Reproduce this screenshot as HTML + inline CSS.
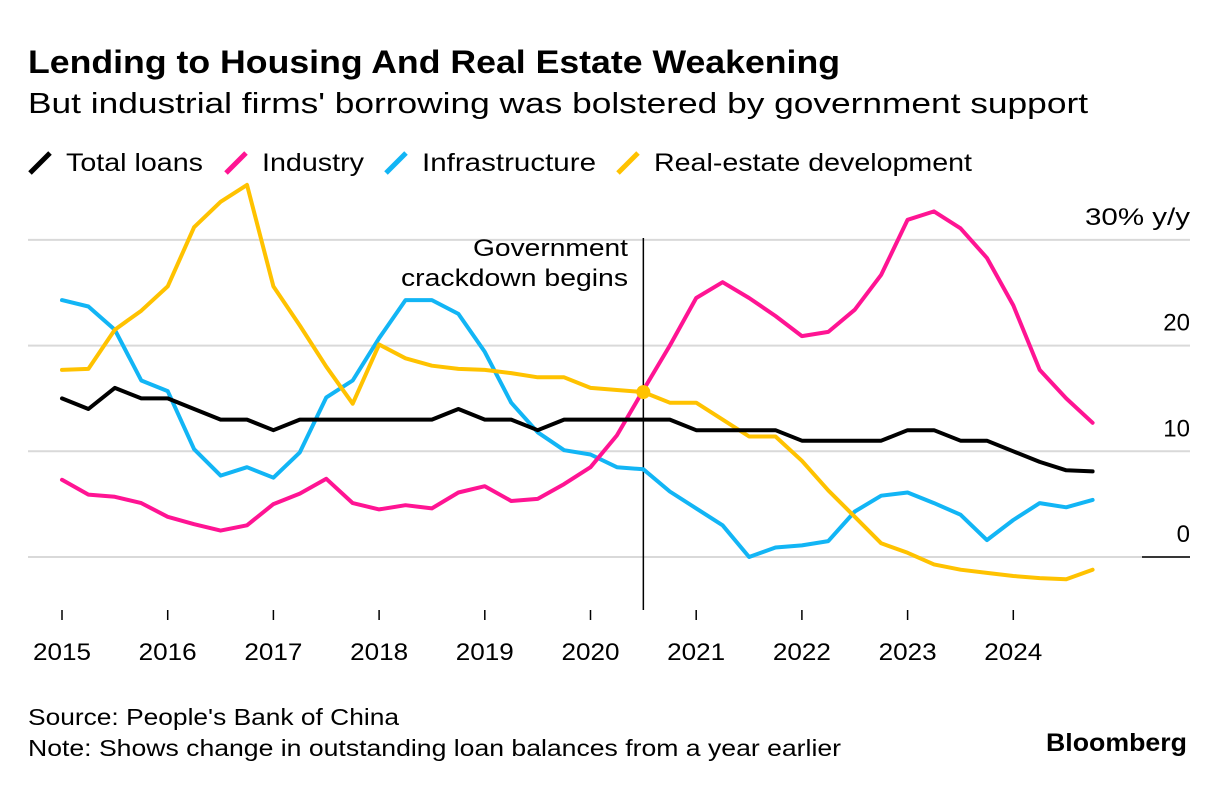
<!DOCTYPE html>
<html><head><meta charset="utf-8">
<style>
body{margin:0;background:#fff;font-family:"Liberation Sans",sans-serif;}
#wrap{position:relative;width:1224px;height:802px;overflow:hidden;}
</style></head>
<body>
<div id="wrap">
<svg id="chart" width="1224" height="802" style="position:absolute;left:0;top:0" font-family="Liberation Sans, sans-serif">
<text x="28" y="73" font-size="32" font-weight="bold" textLength="812" lengthAdjust="spacingAndGlyphs">Lending to Housing And Real Estate Weakening</text>
<text x="28" y="113" font-size="29" textLength="1060" lengthAdjust="spacingAndGlyphs">But industrial firms' borrowing was bolstered by government support</text>
<text x="28" y="725" font-size="23" textLength="371" lengthAdjust="spacingAndGlyphs">Source: People's Bank of China</text>
<text x="28" y="756" font-size="23" textLength="813" lengthAdjust="spacingAndGlyphs">Note: Shows change in outstanding loan balances from a year earlier</text>
<text x="1046" y="751" font-size="25" font-weight="bold" textLength="141" lengthAdjust="spacingAndGlyphs">Bloomberg</text>
</svg>
</div>
<script>
const years=["2015","2016","2017","2018","2019","2020","2021","2022","2023","2024"];
const yTicks=[0,10,20,30];
const seriesNames=["Total loans","Industry","Infrastructure","Real-estate development"];
const seriesColors=["#000000","#ff1493","#12b5f5","#ffc200"];
const totalLoans=[15,14,16,15,15,14,13,13,12,13,13,13,13,13,13,14,13,13,12,13,13,13,13,13,12,12,12,12,11,11,11,11,12,12,11,11,10,9,8.2,8.1];
const industry=[7.3,5.9,5.7,5.1,3.8,3.1,2.5,3.0,5.0,6.0,7.4,5.1,4.5,4.9,4.6,6.1,6.7,5.3,5.5,6.9,8.5,11.5,15.8,20,24.5,26,24.5,22.8,20.9,21.3,23.4,26.7,31.9,32.7,31.1,28.3,23.8,17.7,15,12.7];
const infrastructure=[24.3,23.7,21.5,16.7,15.7,10.2,7.7,8.5,7.5,9.9,15.1,16.7,20.7,24.3,24.3,23,19.4,14.6,11.8,10.1,9.7,8.5,8.3,6.2,4.6,3,0,0.9,1.1,1.5,4.3,5.8,6.1,5.1,4,1.6,3.5,5.1,4.7,5.4];
const realEstate=[17.7,17.8,21.5,23.3,25.6,31.2,33.6,35.2,25.6,21.9,18,14.5,20.1,18.8,18.1,17.8,17.7,17.4,17,17,16,15.8,15.6,14.6,14.6,13,11.4,11.4,9.1,6.3,3.8,1.3,0.4,-0.7,-1.2,-1.5,-1.8,-2,-2.1,-1.2];
const crackdownIndex=22;
const allSeries=[totalLoans,industry,infrastructure,realEstate];
const seriesKeys=["total-loans","industry","infrastructure","real-estate"];

const svg=document.getElementById('chart');
const NS="http://www.w3.org/2000/svg";
const x0=62,xStep=105.7/4;
const xq=i=>x0+i*xStep;
const yv=v=>557-v*10.57;
function mk(tag,attrs,parent){const e=document.createElementNS(NS,tag);for(const k in attrs)e.setAttribute(k,attrs[k]);(parent||svg).appendChild(e);return e;}
function fit(t,w){t.setAttribute('textLength',w);t.setAttribute('lengthAdjust','spacingAndGlyphs');}

yTicks.forEach((t)=>{
  const g=mk('line',{x1:28,x2:1190,y1:yv(t),y2:yv(t),stroke:'#d9d9d9','stroke-width':2});
  
  
  const lab=mk('text',{x:1190,y:yv(t)-15,'text-anchor':'end','font-size':24,fill:'#000'});
  lab.textContent=t===30?'30% y/y':String(t);
  if(t===30)fit(lab,105);
  
  
});
const zl=mk('line',{x1:1142,x2:1190,y1:yv(0),y2:yv(0),stroke:'#000','stroke-width':1.5});



years.forEach((y,i)=>{
  const x=xq(i*4);
  const tk=mk('line',{x1:x,x2:x,y1:610,y2:620,stroke:'#000','stroke-width':1.5});
  
  
  const lb=mk('text',{x:x-29,y:660,'font-size':24,fill:'#000'});
  lb.textContent=y;
  fit(lb,58);
  
  
});

const cx=xq(crackdownIndex);
const cl=mk('line',{x1:cx,x2:cx,y1:238,y2:610,stroke:'#000','stroke-width':1.5});


[['Government',155],['crackdown begins',227]].forEach((s,i)=>{
  const t=mk('text',{x:628-s[1],y:256+i*30,'font-size':24,fill:'#000'});
  t.textContent=s[0];
  fit(t,s[1]);
  
  
});

[2,3,1,0].forEach(si=>{
  const d=allSeries[si].map((v,i)=>(i?'L':'M')+xq(i).toFixed(1)+','+yv(v).toFixed(1)).join(' ');
  const p=mk('path',{d:d,fill:'none',stroke:seriesColors[si],'stroke-width':4,'stroke-linejoin':'round','stroke-linecap':'round'});
  
  
});
const dot=mk('circle',{cx:cx,cy:yv(realEstate[crackdownIndex]),r:7,fill:'#ffc200'});



const legX=[28,224,384,616];
const legW=[137,102,174,318];
seriesNames.forEach((n,i)=>{
  const lx=legX[i];
  const g=mk('g',{});
  
  
  mk('line',{x1:lx+2,y1:173,x2:lx+22,y2:153,stroke:seriesColors[i],'stroke-width':5},g);
  const t=mk('text',{x:lx+38,y:171,'font-size':25,fill:'#000'},g);
  t.textContent=n;
  fit(t,legW[i]);
});
</script>
</body></html>
